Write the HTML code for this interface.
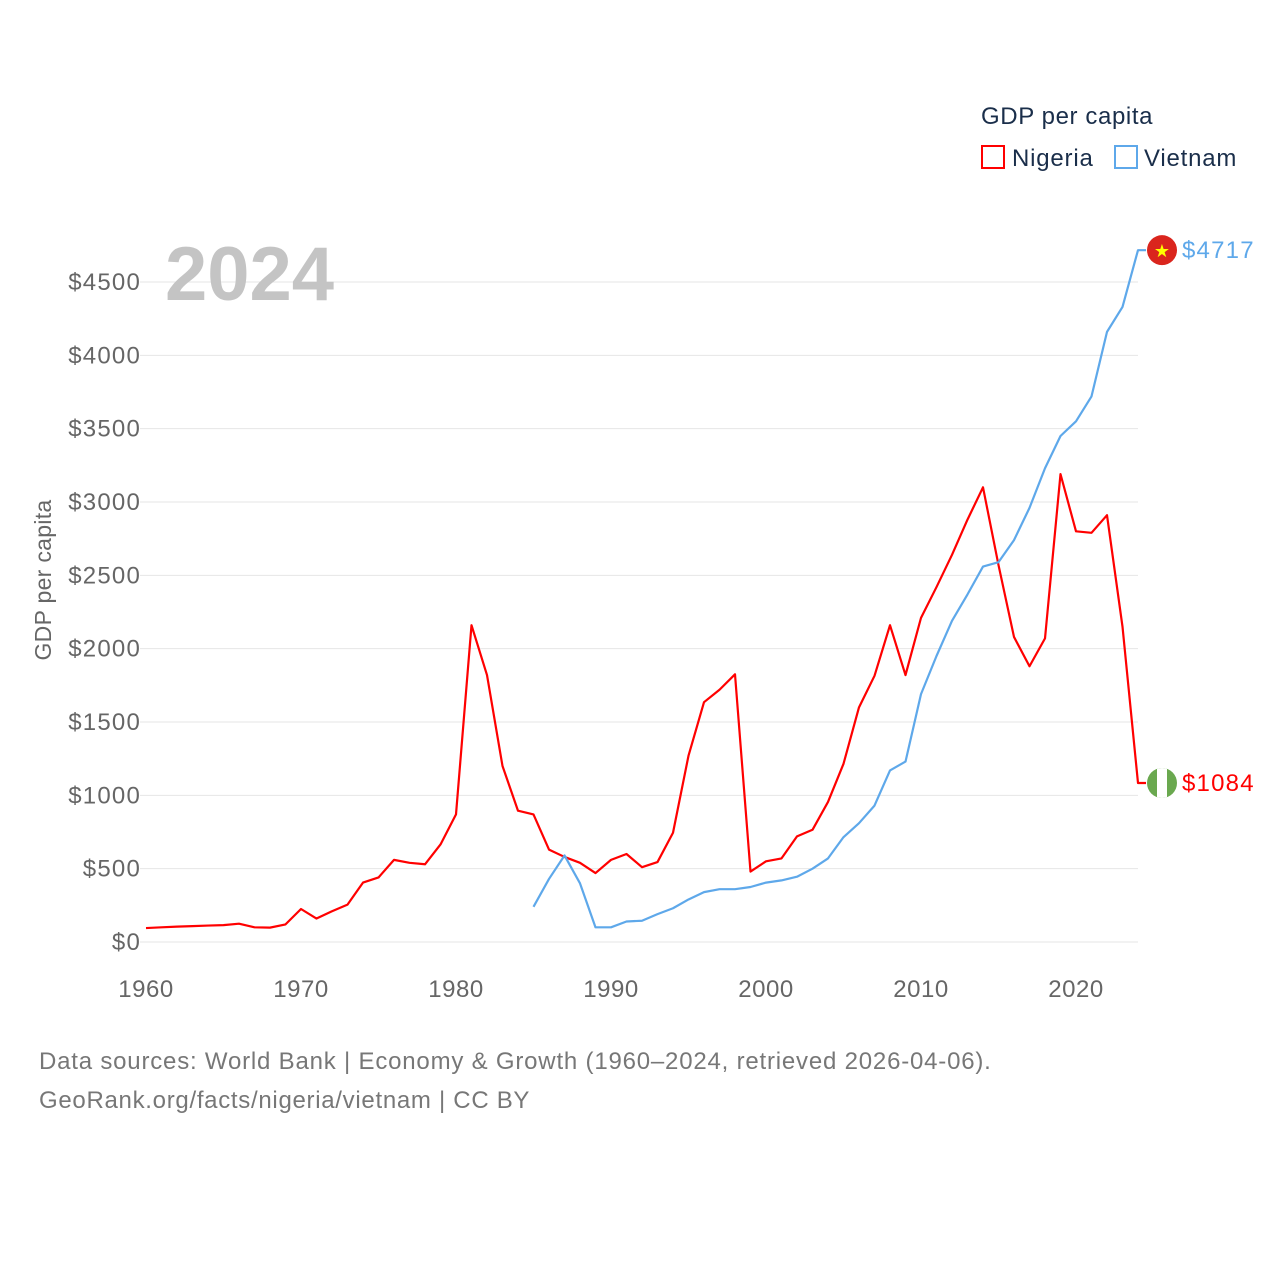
<!DOCTYPE html>
<html><head><meta charset="utf-8"><style>
body{margin:0;background:#fff;font-family:"Liberation Sans",sans-serif}
svg text{font-family:"Liberation Sans",sans-serif}
</style></head><body>
<svg id="chart" width="1280" height="1280" viewBox="0 0 1280 1280" xmlns="http://www.w3.org/2000/svg">
<rect width="1280" height="1280" fill="#fff"/>
<g id="grid"></g>
<g id="yt"></g>
<g id="xt"></g>
<text x="165" y="300" font-size="76" font-weight="bold" fill="#c4c4c4">2024</text>
<text transform="translate(51,580) rotate(-90)" text-anchor="middle" font-size="23" letter-spacing="0.3" fill="#666">GDP per capita</text>
<g>
<text x="981" y="124" font-size="24" letter-spacing="0.6" fill="#1a2e4a">GDP per capita</text>
<rect x="982" y="146" width="22" height="22" fill="none" stroke="#ff0000" stroke-width="2"/>
<text x="1012" y="166" font-size="24" letter-spacing="0.8" fill="#1a2e4a">Nigeria</text>
<rect x="1115" y="146" width="22" height="22" fill="none" stroke="#5ea8ea" stroke-width="2"/>
<text x="1144" y="166" font-size="24" letter-spacing="0.8" fill="#1a2e4a">Vietnam</text>
</g>
<g id="series"></g>
<text x="39" y="1069" font-size="24" letter-spacing="0.8" fill="#777">Data sources: World Bank | Economy &amp; Growth (1960–2024, retrieved 2026-04-06).</text>
<text x="39" y="1108" font-size="24" letter-spacing="0.7" fill="#777">GeoRank.org/facts/nigeria/vietnam | CC BY</text>
</svg>
<script>
const nigeriaYears=[1960,1961,1962,1963,1964,1965,1966,1967,1968,1969,1970,1971,1972,1973,1974,1975,1976,1977,1978,1979,1980,1981,1982,1983,1984,1985,1986,1987,1988,1989,1990,1991,1992,1993,1994,1995,1996,1997,1998,1999,2000,2001,2002,2003,2004,2005,2006,2007,2008,2009,2010,2011,2012,2013,2014,2015,2016,2017,2018,2019,2020,2021,2022,2023,2024];
const nigeriaValues=[95,100,105,108,112,115,125,100,98,120,225,160,210,255,405,440,560,540,530,665,870,2160,1820,1200,895,870,630,580,540,470,560,600,510,545,745,1270,1635,1720,1825,480,550,570,720,765,955,1215,1600,1815,2160,1820,2210,2420,2640,2880,3100,2570,2080,1880,2070,3190,2800,2790,2910,2150,1084];
const vietnamYears=[1985,1986,1987,1988,1989,1990,1991,1992,1993,1994,1995,1996,1997,1998,1999,2000,2001,2002,2003,2004,2005,2006,2007,2008,2009,2010,2011,2012,2013,2014,2015,2016,2017,2018,2019,2020,2021,2022,2023,2024];
const vietnamValues=[240,430,590,400,100,100,140,145,190,230,290,340,360,360,375,405,420,445,500,570,715,810,930,1170,1230,1690,1950,2190,2370,2560,2590,2740,2960,3230,3450,3550,3720,4160,4330,4717];
const yTicks=[0,500,1000,1500,2000,2500,3000,3500,4000,4500];
const xTicks=[1960,1970,1980,1990,2000,2010,2020];
const X=y=>146+(y-1960)*15.5;
const Y=v=>942-v*660/4500;
const NS="http://www.w3.org/2000/svg";
function mk(t,a,p){const e=document.createElementNS(NS,t);for(const k in a)e.setAttribute(k,a[k]);p.appendChild(e);return e;}
const grid=document.getElementById('grid'),yt=document.getElementById('yt'),xt=document.getElementById('xt'),ser=document.getElementById('series');
yTicks.forEach(v=>{
 const l=mk('line',{x1:140,x2:1138,y1:Y(v),y2:Y(v),stroke:'#e6e6e6','stroke-width':1},grid);
 
 
 const t=mk('text',{x:141,y:Y(v)+8,'text-anchor':'end','font-size':24,'letter-spacing':1.2,fill:'#666'},yt);t.textContent='$'+v;
 
 
});
xTicks.forEach(v=>{
 const t=mk('text',{x:X(v),y:997,'text-anchor':'middle','font-size':24,'letter-spacing':0.5,fill:'#666'},xt);t.textContent=v;
 
 
});
function line(ys,vs,col,name){
 let d=ys.map((y,i)=>(i?'L':'M')+X(y)+','+Y(vs[i])).join(' ');
 d+=' L'+(X(ys[ys.length-1])+8)+','+Y(vs[vs.length-1]);
 const p=mk('path',{d:d,fill:'none',stroke:col,'stroke-width':2.2,'stroke-linejoin':'round'},ser);
 
 
}
line(nigeriaYears,nigeriaValues,'#ff0000','nigeria-line');
line(vietnamYears,vietnamValues,'#5ea8ea','vietnam-line');
const vy=Y(vietnamValues[vietnamValues.length-1]),ny=Y(nigeriaValues[nigeriaValues.length-1]);
const vf=mk('circle',{cx:1162,cy:vy,r:15,fill:'#da251d'},ser);


const st=mk('text',{x:1162,y:vy+7,'text-anchor':'middle','font-size':18,fill:'#ffff00'},ser);st.textContent='★';


const nf=mk('g',{},ser);


const cp=mk('clipPath',{id:'nc'},nf);
mk('circle',{cx:1162,cy:ny,r:15},cp);
const ng=mk('g',{'clip-path':'url(#nc)'},nf);
mk('rect',{x:1147,y:ny-15,width:30,height:30,fill:'#6aa84f'},ng);
mk('rect',{x:1157,y:ny-15,width:10,height:30,fill:'#fff'},ng);
const vl=mk('text',{x:1182,y:vy+8,'font-size':24,'letter-spacing':1.2,fill:'#5ea8ea'},ser);vl.textContent='$'+vietnamValues[vietnamValues.length-1];


const nl=mk('text',{x:1182,y:ny+8,'font-size':24,'letter-spacing':1.2,fill:'#ff0000'},ser);nl.textContent='$'+nigeriaValues[nigeriaValues.length-1];


</script>
</body></html>
